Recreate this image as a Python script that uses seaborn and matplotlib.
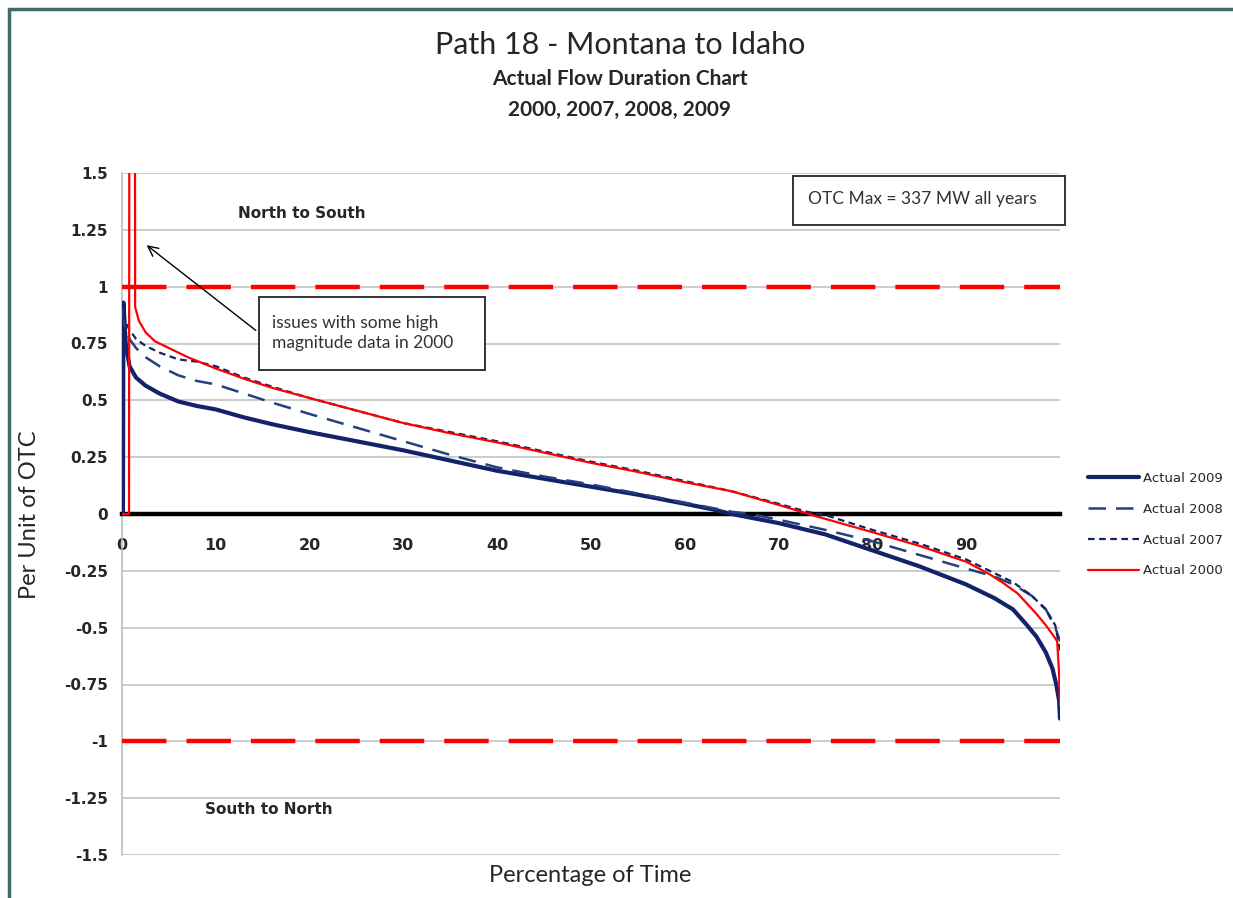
"""Path 18 flow duration chart, rebuilt with seaborn."""
import matplotlib

matplotlib.use("Agg")
import matplotlib.pyplot as plt
import pandas as pd
import seaborn as sns
from matplotlib.lines import Line2D
from matplotlib.patches import Rectangle

sns.set_style("white")
plt.rcParams["font.family"] = ["DejaVu Sans"]

HUMANIST = ["Lato", "DejaVu Sans"]

# duration curves: percent of time vs per unit of OTC
pct_2009 = [0, 0.1, 0.15, 0.4, 0.8, 1.5, 2.5, 4, 6, 8, 10, 13, 16, 20, 25, 30, 35, 40, 45,
            50, 55, 60, 63, 65, 70, 75, 80, 85, 90, 93, 95, 96.5, 97.5, 98.5, 99.2, 99.6, 99.9, 100]
pu_2009 = [0, 0, 0.93, 0.75, 0.65, 0.6, 0.565, 0.53, 0.495, 0.475, 0.46, 0.425, 0.395, 0.36,
           0.32, 0.28, 0.235, 0.19, 0.155, 0.12, 0.085, 0.045, 0.02, 0.0, -0.04, -0.09, -0.16,
           -0.23, -0.31, -0.37, -0.42, -0.49, -0.54, -0.61, -0.68, -0.75, -0.82, -0.9]

pct_2008 = [0, 0.3, 0.8, 1.5, 2.5, 4, 6, 8, 10, 13, 16, 20, 25, 30, 35, 40, 45, 50, 55, 60,
            65, 67, 70, 75, 80, 85, 90, 93, 95, 97, 98.5, 99.5, 100]
pu_2008 = [0.9, 0.82, 0.77, 0.73, 0.69, 0.65, 0.61, 0.585, 0.57, 0.53, 0.49, 0.44, 0.38, 0.32,
           0.26, 0.205, 0.165, 0.13, 0.09, 0.05, 0.01, 0.0, -0.025, -0.07, -0.12, -0.18, -0.24,
           -0.275, -0.31, -0.36, -0.42, -0.5, -0.56]

pct_2007 = [0, 0.3, 0.8, 1.5, 2.5, 4, 6, 8, 10, 13, 16, 20, 25, 30, 35, 40, 45, 50, 55, 60,
            65, 70, 73, 75, 80, 85, 90, 92.5, 95, 97, 98.5, 99.5, 100]
pu_2007 = [0.93, 0.85, 0.81, 0.77, 0.74, 0.71, 0.68, 0.67, 0.65, 0.6, 0.56, 0.51, 0.455, 0.40,
           0.36, 0.32, 0.275, 0.23, 0.19, 0.145, 0.1, 0.045, 0.01, -0.005, -0.07, -0.13, -0.2,
           -0.25, -0.3, -0.36, -0.42, -0.49, -0.6]

pct_2000 = [0, 0.75, 0.8, 1.35, 1.4, 1.8, 2.5, 3.5, 5, 7, 10, 13, 16, 20, 25, 30, 35, 40, 45,
            50, 55, 60, 65, 70, 74, 80, 85, 90, 92.5, 94, 95.5, 96.5, 97.5, 98.5, 99.3, 99.7,
            99.9, 100]
pu_2000 = [0, 0, 3.0, 3.0, 0.91, 0.85, 0.80, 0.76, 0.73, 0.69, 0.64, 0.595, 0.555, 0.51, 0.455,
           0.40, 0.355, 0.315, 0.27, 0.225, 0.185, 0.14, 0.1, 0.04, -0.01, -0.08, -0.14, -0.21,
           -0.265, -0.305, -0.35, -0.395, -0.44, -0.49, -0.535, -0.56, -0.7, -0.84]

otc_limits = [1, -1]
y_ticks = [1.5, 1.25, 1, 0.75, 0.5, 0.25, 0, -0.25, -0.5, -0.75, -1, -1.25, -1.5]
y_labels = ["1.5", "1.25", "1", "0.75", "0.5", "0.25", "0", "-0.25", "-0.5", "-0.75", "-1",
            "-1.25", "-1.5"]
x_ticks = [0, 10, 20, 30, 40, 50, 60, 70, 80, 90, 100]
x_labels = ["0", "10", "20", "30", "40", "50", "60", "70", "80", "90", ""]

series = [
    ("Actual 2009", pct_2009, pu_2009, dict(color="#13236a", lw=3.0, linestyle="-")),
    ("Actual 2008", pct_2008, pu_2008, dict(color="#25407f", lw=1.8, linestyle=(0, (7, 4)))),
    ("Actual 2007", pct_2007, pu_2007, dict(color="#13236a", lw=1.6, linestyle=(0, (3, 2)))),
    ("Actual 2000", pct_2000, pu_2000, dict(color="#ff0000", lw=1.6, linestyle="-")),
]

fig = plt.figure(figsize=(12.33, 8.98), dpi=100)
ax = fig.add_axes([122 / 1233, 43 / 898, 938 / 1233, 682 / 898])

for label, xs, ys, style in series:
    frame = pd.DataFrame({"pct": xs, "pu": ys})
    sns.lineplot(data=frame, x="pct", y="pu", ax=ax, label=label, sort=False,
                 estimator=None, zorder=4, **style)

limit_frame = pd.DataFrame({"pct": [0, 100] * 2, "pu": [v for v in otc_limits for _ in range(2)],
                            "limit": [str(v) for v in otc_limits for _ in range(2)]})
for _, grp in limit_frame.groupby("limit"):
    sns.lineplot(data=grp, x="pct", y="pu", ax=ax, color="#ff0000", lw=3.2,
                 linestyle=(0, (10, 4.5)), legend=False, zorder=3, estimator=None)

# spine position first: moving a spine resets the tick labels
ax.spines["bottom"].set_position(("data", 0))
ax.spines["bottom"].set_linewidth(3.2)
ax.spines["bottom"].set_color("black")
ax.spines["bottom"].set_zorder(3.5)
ax.spines["left"].set_color("#bdbdbd")
ax.spines["left"].set_linewidth(1.2)
ax.spines["top"].set_visible(False)
ax.spines["right"].set_visible(False)

ax.set_xlim(0, 100)
ax.set_ylim(-1.5, 1.5)
ax.set_yticks(y_ticks)
ax.set_yticklabels(y_labels, fontsize=11, fontweight="bold")
ax.set_xticks(x_ticks)
ax.set_xticklabels(x_labels, fontsize=11.5, fontweight="bold")
ax.yaxis.grid(True, color="#c8c8c8", lw=1.3)
ax.set_axisbelow(True)
ax.tick_params(axis="x", direction="out", length=4, width=3, color="black", pad=13)
ax.tick_params(axis="y", direction="out", length=6, width=1, color="#bdbdbd", pad=4)

ax.set_xlabel("")
ax.set_ylabel("")
fig.text(590 / 1233, 1 - 876 / 898, "Percentage of Time", ha="center", va="center",
         fontsize=17, family=HUMANIST)
fig.text(30 / 1233, 1 - 515 / 898, "Per Unit of OTC", ha="center", va="center",
         rotation=90, fontsize=17, family=HUMANIST)

fig.text(620 / 1233, 1 - 45 / 898, "Path 18 - Montana to Idaho", ha="center", va="center",
         fontsize=22, family=HUMANIST)
fig.text(620 / 1233, 1 - 79 / 898, "Actual Flow Duration Chart", ha="center", va="center",
         fontsize=15, fontweight="bold", family=HUMANIST)
fig.text(620 / 1233, 1 - 110 / 898, "2000, 2007, 2008, 2009", ha="center", va="center",
         fontsize=15, fontweight="bold", family=HUMANIST)

ax.text(12.4, 1.32, "North to South", fontsize=11, fontweight="bold", va="center")
ax.text(8.9, -1.30, "South to North", fontsize=11, fontweight="bold", va="center")

# annotation about the 2000 spike
ax.add_patch(Rectangle((14.6, 0.634), 24.1, 0.321, fc="white", ec="#333333", lw=1.4,
                       zorder=5))
ax.text(16.0, 0.797, "issues with some high\nmagnitude data in 2000", fontsize=12.5,
        family=HUMANIST, va="center", ha="left", color="#333333", linespacing=1.35,
        zorder=6)
ax.annotate("", xy=(2.4, 1.19), xytext=(14.5, 0.80),
            arrowprops=dict(arrowstyle="->", color="black", lw=1.0, mutation_scale=18),
            zorder=6)

ax.add_patch(Rectangle((71.5, 1.273), 29.0, 0.216, fc="white", ec="#333333", lw=1.4,
                       zorder=5, clip_on=False))
ax.text(73.1, 1.385, "OTC Max = 337 MW all years", fontsize=12.5, family=HUMANIST,
        va="center", ha="left", color="#333333", zorder=6)

ax.legend(loc="upper left", bbox_to_anchor=(1076 / 1233, 1 - 460 / 898),
          bbox_transform=fig.transFigure, frameon=False, fontsize=9.5,
          labelspacing=1.35, handlelength=3.9, handletextpad=0.3)

# dark frame lines along the top and left edges
border = "#3d6b6b"
fig.add_artist(Line2D([9 / 1233, 9 / 1233], [0, 1 - 9 / 898], color=border, lw=2.5,
                      transform=fig.transFigure))
fig.add_artist(Line2D([9 / 1233, 1], [1 - 9 / 898, 1 - 9 / 898], color=border, lw=2.5,
                      transform=fig.transFigure))

fig.savefig("out.png", dpi=100)
